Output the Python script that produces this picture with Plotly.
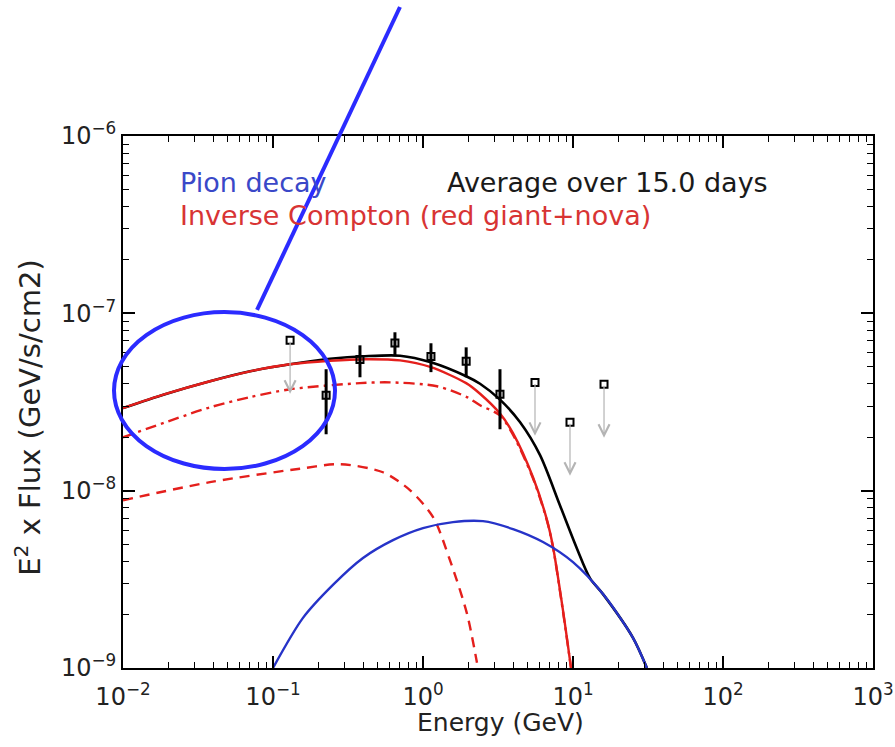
import math
import plotly.graph_objects as go

# ---------------- data ----------------
# Total model (black)
tot_E = [0.01, 0.01905, 0.038, 0.0703, 0.13, 0.24, 0.41, 0.703, 1.13, 1.94, 2.4, 3.26, 4.44, 6.03, 8.18,
         10.6, 13.0, 15.85, 25.12, 31.1]
tot_F = [2.92e-8, 3.50e-8, 4.14e-8, 4.71e-8, 5.16e-8, 5.54e-8, 5.73e-8, 5.77e-8, 5.30e-8, 4.42e-8, 4.01e-8,
         3.26e-8, 2.43e-8, 1.585e-8, 8.28e-9, 4.74e-9, 3.2e-9, 2.61e-9, 1.48e-9, 1.0e-9]

# Inverse Compton total (red solid)
ic_E = [0.01, 0.01905, 0.038, 0.0703, 0.13, 0.24, 0.41, 0.703, 1.13, 1.94, 2.4, 3.26, 3.98, 5.41, 6.71,
        7.36, 8.57, 9.7]
ic_F = [2.92e-8, 3.50e-8, 4.14e-8, 4.71e-8, 5.16e-8, 5.40e-8, 5.51e-8, 5.43e-8, 4.97e-8, 4.04e-8, 3.52e-8,
        2.72e-8, 2.11e-8, 1.19e-8, 6.82e-9, 4.81e-9, 2.12e-9, 1.0e-9]

# Inverse Compton, nova photons (red dash-dot)
icn_E = [0.01, 0.038, 0.0703, 0.13, 0.38, 0.603, 1.24, 1.96, 2.4, 3.26, 3.98, 5.41, 6.71, 7.36, 8.57, 9.7]
icn_F = [2.0e-8, 2.95e-8, 3.37e-8, 3.73e-8, 4.04e-8, 4.08e-8, 3.88e-8, 3.37e-8, 3.03e-8, 2.66e-8, 2.07e-8,
         1.175e-8, 6.76e-9, 4.79e-9, 2.09e-9, 1.0e-9]

# Inverse Compton, red giant photons (red dashed)
icr_E = [0.01, 0.038, 0.151, 0.28, 0.541, 0.818, 1.167, 1.51, 1.96, 2.29]
icr_F = [8.83e-9, 1.117e-8, 1.33e-8, 1.41e-8, 1.27e-8, 1.007e-8, 7.10e-9, 4.07e-9, 2.04e-9, 1.07e-9]

# Pion decay (blue)
pi_E = [0.1, 0.158, 0.251, 0.398, 0.631, 1.0, 1.585, 2.512, 3.981, 6.31, 10.0, 15.85, 25.12, 31.1]
pi_F = [1.0e-9, 1.91e-9, 2.94e-9, 4.17e-9, 5.26e-9, 6.15e-9, 6.65e-9, 6.73e-9, 6.07e-9, 5.13e-9, 3.95e-9,
        2.61e-9, 1.48e-9, 1.0e-9]

# Detections with error bars
det_E = [0.226, 0.38, 0.65, 1.13, 1.94, 3.26]
det_F = [3.45e-8, 5.5e-8, 6.8e-8, 5.7e-8, 5.37e-8, 3.5e-8]
det_hi = [4.84e-8, 6.6e-8, 7.82e-8, 6.78e-8, 6.43e-8, 4.84e-8]
det_lo = [2.08e-8, 4.36e-8, 5.73e-8, 4.66e-8, 4.36e-8, 2.22e-8]

# Upper limits
ul_E = [0.13, 5.58, 9.55, 16.1]
ul_F = [7.05e-8, 4.08e-8, 2.43e-8, 3.98e-8]
ul_arrow_factor = 0.5  # arrow tip drawn at half the limit value

x_tickvals = [1e-2, 1e-1, 1e0, 1e1, 1e2, 1e3]
x_ticktext = ["10<sup>\u22122</sup>", "10<sup>\u22121</sup>", "10<sup>0</sup>", "10<sup>1</sup>",
              "10<sup>2</sup>", "10<sup>3</sup>"]
y_tickvals = [1e-9, 1e-8, 1e-7, 1e-6]
y_ticktext = ["10<sup>\u22129</sup>", "10<sup>\u22128</sup>", "10<sup>\u22127</sup>", "10<sup>\u22126</sup>"]

# ---------------- figure ----------------
RED = "#e41f1c"
BLUE = "#2633c8"
FONT = "DejaVu Sans"
TXT = "#222222"

fig = go.Figure()

fig.add_trace(go.Scatter(x=tot_E, y=tot_F, mode="lines",
                         line=dict(color="black", width=2.6, shape="spline", smoothing=0.8),
                         showlegend=False))
fig.add_trace(go.Scatter(x=icn_E, y=icn_F, mode="lines",
                         line=dict(color=RED, width=2.4, shape="spline", smoothing=0.8,
                                   dash="11px,5px,3px,5px"),
                         showlegend=False))
fig.add_trace(go.Scatter(x=icr_E, y=icr_F, mode="lines",
                         line=dict(color=RED, width=2.4, shape="spline", smoothing=0.8, dash="10px,7px"),
                         showlegend=False))
fig.add_trace(go.Scatter(x=ic_E, y=ic_F, mode="lines",
                         line=dict(color=RED, width=2.4, shape="spline", smoothing=0.8),
                         showlegend=False))
fig.add_trace(go.Scatter(x=pi_E, y=pi_F, mode="lines",
                         line=dict(color=BLUE, width=2.4, shape="spline", smoothing=0.8),
                         showlegend=False))

# upper-limit arrows
for e, f in zip(ul_E, ul_F):
    fig.add_annotation(x=math.log10(e), y=math.log10(f * ul_arrow_factor),
                       ax=math.log10(e), ay=math.log10(f), axref="x", ayref="y",
                       xref="x", yref="y", text="", showarrow=True,
                       arrowhead=5, arrowsize=1.8, arrowwidth=1.2, arrowcolor="#b4b4b4",
                       standoff=0, startstandoff=0)

fig.add_trace(go.Scatter(x=ul_E, y=ul_F, mode="markers",
                         marker=dict(symbol="square-open", size=7, color="black", line=dict(width=2)),
                         showlegend=False))

fig.add_trace(go.Scatter(
    x=det_E, y=det_F, mode="markers",
    marker=dict(symbol="square-open", size=7, color="black", line=dict(width=2)),
    error_y=dict(type="data", symmetric=False,
                 array=[h - f for h, f in zip(det_hi, det_F)],
                 arrayminus=[f - l for f, l in zip(det_F, det_lo)],
                 color="black", thickness=3, width=0),
    showlegend=False))

# labels inside the plot
fig.add_annotation(x=0.073, y=0.9135, xref="paper", yref="paper", xanchor="left", yanchor="middle",
                   text="Pion decay", showarrow=False, font=dict(family=FONT, size=27, color="#3a48c8"))
fig.add_annotation(x=0.429, y=0.9135, xref="paper", yref="paper", xanchor="left", yanchor="middle",
                   text="Average over 15.0 days", showarrow=False, font=dict(family=FONT, size=27, color="#1a1a1a"))
fig.add_annotation(x=0.073, y=0.8515, xref="paper", yref="paper", xanchor="left", yanchor="middle",
                   text="Inverse Compton (red giant+nova)", showarrow=False,
                   font=dict(family=FONT, size=27, color="#d83434"))

# axis titles
fig.add_annotation(x=0.503, y=-0.103, xref="paper", yref="paper", xanchor="center", yanchor="middle",
                   text="Energy (GeV)", showarrow=False, font=dict(family=FONT, size=25, color=TXT))
fig.add_annotation(x=-0.127, y=0.47, xref="paper", yref="paper", xanchor="center", yanchor="middle",
                   text="E<sup>2</sup> x Flux (GeV/s/cm2)", textangle=-90, showarrow=False,
                   font=dict(family=FONT, size=29, color=TXT))

# highlight ellipse and pointer line
fig.add_shape(type="circle", xref="paper", yref="paper", x0=-0.012, x1=0.2827, y0=0.374, y1=0.669,
              line=dict(color="#2b2bff", width=4))
fig.add_shape(type="line", xref="paper", yref="paper", x0=0.1787, y0=0.673, x1=0.3693, y1=1.2425,
              line=dict(color="#2b2bff", width=4))

minor_x = [m * 10.0 ** d for d in range(-2, 3) for m in range(2, 10)]
minor_y = [m * 10.0 ** d for d in range(-9, -6) for m in range(2, 10)]

axis_common = dict(
    type="log", showgrid=False, zeroline=False, showline=True, linecolor="black", linewidth=2,
    mirror="ticks", ticks="inside", ticklen=12, tickwidth=1.5, tickcolor="black",
    tickmode="array", tickfont=dict(family=FONT, size=24, color=TXT), automargin=False,
)

fig.update_xaxes(range=[-2, 3], tickvals=x_tickvals, ticktext=x_ticktext, ticklabelstandoff=6,
                 minor=dict(ticks="inside", ticklen=6, tickwidth=1.2, tickcolor="black", showgrid=False,
                            tickmode="array", tickvals=minor_x),
                 **axis_common)
fig.update_yaxes(range=[-9, -6], tickvals=y_tickvals, ticktext=y_ticktext,
                 minor=dict(ticks="inside", ticklen=6, tickwidth=1.2, tickcolor="black", showgrid=False,
                            tickmode="array", tickvals=minor_y),
                 **axis_common)

fig.update_layout(width=895, height=747, margin=dict(l=123, r=22, t=136, b=79),
                  paper_bgcolor="white", plot_bgcolor="white")

fig.write_html("out.html")
